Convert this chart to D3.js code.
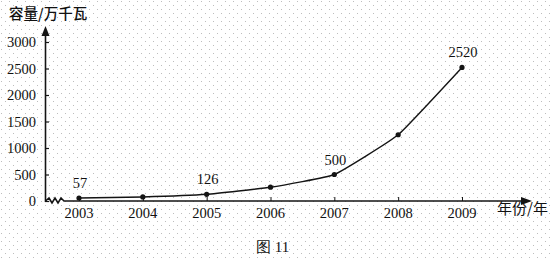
<!DOCTYPE html>
<html>
<head>
<meta charset="utf-8">
<script src="https://cdn.jsdelivr.net/npm/d3@7"></script>
<style>
  body { margin: 0; background: #fff; }
  svg text { fill: #111; }
</style>
</head>
<body>
<div id="chart"></div>
<script>
// data
var years = ["2003", "2004", "2005", "2006", "2007", "2008", "2009"];
var capacity = [57, 76, 126, 260, 500, 1250, 2520];
var labelled = ["2003", "2005", "2007", "2009"];   // points that carry a value label
var yTicks = [0, 500, 1000, 1500, 2000, 2500, 3000];

var width = 553, height = 259;

var svg = d3.select("#chart")
  .append("svg")
    .attr("width", width)
    .attr("height", height);

// dotted paper background
var defs = svg.append("defs");
var pat = defs.append("pattern")
    .attr("id", "dots")
    .attr("width", 8)
    .attr("height", 8)
    .attr("patternUnits", "userSpaceOnUse");
pat.append("rect").attr("x", 1).attr("y", 1).attr("width", 1).attr("height", 1).attr("fill", "#bdbdbd");
pat.append("rect").attr("x", 5).attr("y", 5).attr("width", 1).attr("height", 1).attr("fill", "#bdbdbd");
svg.append("rect").attr("width", width).attr("height", height).attr("fill", "url(#dots)");

var x = d3.scalePoint()
    .domain(years)
    .range([79, 462]);

var y = d3.scaleLinear()
    .domain([0, 3000])
    .range([201, 42]);

var ink = "#141414";
var serif = "'Liberation Serif', 'DejaVu Serif', serif";
var cjk = "'Noto Sans CJK SC', sans-serif";

// Y axis
var yAxis = svg.append("g")
    .attr("transform", "translate(45,0)")
    .call(d3.axisRight(y).tickValues(yTicks).tickSize(4).tickFormat(""));
yAxis.select(".domain").remove();
yAxis.selectAll("line").attr("stroke", ink).attr("stroke-width", 1.2);
svg.append("line")
    .attr("x1", 45.5).attr("x2", 45.5)
    .attr("y1", 202).attr("y2", 32)
    .attr("stroke", ink).attr("stroke-width", 1.6);
svg.append("path")
    .attr("d", "M45.5,26 L41.5,36 L49.5,36 Z")
    .attr("fill", ink);

svg.append("g").selectAll("text")
  .data(yTicks)
  .enter()
  .append("text")
    .attr("x", 36)
    .attr("y", function (d) { return y(d); })
    .attr("dy", "0.35em")
    .attr("text-anchor", "end")
    .style("font-family", serif)
    .style("font-size", "14.5px")
    .text(function (d) { return d; });

// X axis with the break zigzag near the origin
var x0 = 201;
svg.append("path")
    .attr("d", "M45.5," + x0 + " L49," + (x0 - 3) + " L52," + (x0 + 2) + " L55," + (x0 - 3) +
               " L58," + (x0 + 2) + " L61," + (x0 - 3) + " L64," + x0 + " L524," + x0)
    .attr("fill", "none")
    .attr("stroke", ink)
    .attr("stroke-width", 1.6);
svg.append("path")
    .attr("d", "M532," + x0 + " L521," + (x0 - 4) + " L521," + (x0 + 4) + " Z")
    .attr("fill", ink);

var xAxis = svg.append("g")
    .attr("transform", "translate(0," + x0 + ")")
    .call(d3.axisTop(x).tickSize(4).tickFormat(""));
xAxis.select(".domain").remove();
xAxis.selectAll("line").attr("stroke", ink).attr("stroke-width", 1);

svg.append("g").selectAll("text")
  .data(years)
  .enter()
  .append("text")
    .attr("x", function (d) { return x(d); })
    .attr("y", 218)
    .attr("text-anchor", "middle")
    .style("font-family", serif)
    .style("font-size", "14.5px")
    .text(function (d) { return d; });

// data line
var pts = years.map(function (yr, i) { return {year: yr, value: capacity[i]}; });

var line = d3.line()
    .x(function (d) { return x(d.year); })
    .y(function (d) { return y(d.value); })
    .curve(d3.curveCardinal.tension(0.65));

svg.append("path")
    .datum(pts)
    .attr("d", line)
    .attr("fill", "none")
    .attr("stroke", ink)
    .attr("stroke-width", 1.4);

svg.append("g").selectAll("circle")
  .data(pts)
  .enter()
  .append("circle")
    .attr("cx", function (d) { return x(d.year); })
    .attr("cy", function (d) { return y(d.value); })
    .attr("r", 2.6)
    .attr("fill", ink);

svg.append("g").selectAll("text")
  .data(pts.filter(function (d) { return labelled.indexOf(d.year) >= 0; }))
  .enter()
  .append("text")
    .attr("x", function (d) { return x(d.year) + 1; })
    .attr("y", function (d) { return y(d.value) - 10; })
    .attr("text-anchor", "middle")
    .style("font-family", serif)
    .style("font-size", "14.5px")
    .text(function (d) { return d.value; });

// axis titles and caption
svg.append("text")
    .attr("x", 9)
    .attr("y", 19)
    .style("font-family", cjk)
    .style("font-size", "14.5px")
    .style("font-weight", "500")
    .text("容量/万千瓦");

svg.append("text")
    .attr("x", 497)
    .attr("y", 214)
    .style("font-family", cjk)
    .style("font-size", "15px")
    .text("年份/年");

svg.append("text")
    .attr("x", 256)
    .attr("y", 252)
    .style("font-family", serif)
    .style("font-size", "15px")
    .text("图 11");
</script>
</body>
</html>
